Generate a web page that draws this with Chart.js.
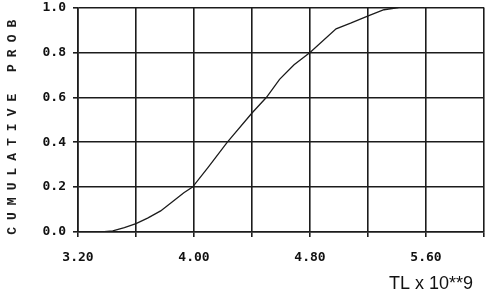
<!DOCTYPE html>
<html>
<head>
<meta charset="utf-8">
<script src="https://cdn.jsdelivr.net/npm/chart.js@4/dist/chart.umd.min.js"></script>
<style>
  html, body { margin: 0; padding: 0; background: #fff; }
  #wrap { width: 490px; height: 292px; }
</style>
</head>
<body>
<div id="wrap"><canvas id="cdf"></canvas></div>
<script>
// Valors llegits de la corba (TL x 10**9 -> probabilitat acumulada)
const tlValues = [3.36, 3.44, 3.52, 3.60, 3.68, 3.77, 3.86, 3.93, 3.99, 4.10, 4.23, 4.40, 4.50, 4.59, 4.69, 4.80, 4.98, 5.08, 5.21, 5.31, 5.41];
const cumProb  = [0.00, 0.005, 0.02, 0.037, 0.062, 0.094, 0.139, 0.175, 0.20, 0.29, 0.40, 0.53, 0.60, 0.68, 0.745, 0.80, 0.905, 0.93, 0.965, 0.99, 1.00];

const xTickLabels = ['3.20', '4.00', '4.80', '5.60'];
const yTitle = 'CUMULATIVE PROB';
const xTitle = 'TL x 10**9';

const ink = '#1c1c1c';
const monoFamily = '"DejaVu Sans Mono", monospace';

// Títols dels eixos dibuixats a mà (espaiat de lletres)
const axisTitles = {
    id: 'axisTitles',
    afterDraw(chart) {
        const { ctx, chartArea } = chart;
        ctx.save();
        ctx.fillStyle = ink;
        ctx.font = 'bold 13px "Liberation Mono", monospace';
        ctx.letterSpacing = '7px';
        ctx.translate(13, (chartArea.top + chartArea.bottom) / 2 + 4);
        ctx.rotate(-Math.PI / 2);
        ctx.textAlign = 'center';
        ctx.textBaseline = 'middle';
        ctx.fillText(yTitle, 0, 0);
        ctx.restore();

        ctx.save();
        ctx.fillStyle = '#111';
        ctx.font = '18px "Liberation Sans", Arial, sans-serif';
        ctx.textAlign = 'right';
        ctx.textBaseline = 'alphabetic';
        ctx.fillText(xTitle, 473, 289);
        ctx.restore();
    }
};

const points = tlValues.map((x, i) => ({ x, y: cumProb[i] }));

new Chart(document.getElementById('cdf').getContext('2d'), {
    type: 'scatter',
    data: {
        datasets: [{
            data: points,
            showLine: true,
            borderColor: ink,
            borderWidth: 1.3,
            pointRadius: 0,
            tension: 0
        }]
    },
    options: {
        responsive: true,
        maintainAspectRatio: false,
        animation: false,
        layout: { padding: { top: 0, right: 6, left: 0, bottom: 0 } },
        plugins: {
            legend: { display: false },
            tooltip: { enabled: false }
        },
        scales: {
            x: {
                type: 'linear',
                min: 3.2,
                max: 6.0,
                afterFit: (scale) => { scale.height = 60; },
                afterBuildTicks: (scale) => {
                    scale.ticks = [3.2, 3.6, 4.0, 4.4, 4.8, 5.2, 5.6, 6.0].map(v => ({ value: v }));
                },
                ticks: {
                    autoSkip: false,
                    maxRotation: 0,
                    padding: 0,
                    color: '#111',
                    // lineHeight gran per baixar les etiquetes sense afegir marge lateral
                    font: { family: monoFamily, size: 13, weight: 'bold', lineHeight: '41px' },
                    callback: (value, idx) => (idx % 2 === 0 ? xTickLabels[idx / 2] || '' : '')
                },
                grid: { color: ink, lineWidth: 1.6, tickLength: 5, tickColor: ink },
                border: { color: ink, width: 1.6 }
            },
            y: {
                min: 0,
                max: 1,
                afterFit: (scale) => { scale.width = 78; },
                ticks: {
                    stepSize: 0.2,
                    padding: 7,
                    color: '#111',
                    font: { family: monoFamily, size: 13, weight: 'bold', lineHeight: '1px' },
                    callback: (value) => value.toFixed(1)
                },
                grid: { color: ink, lineWidth: 1.6, tickLength: 5, tickColor: ink },
                border: { color: ink, width: 1.6 }
            }
        }
    },
    plugins: [axisTitles]
});
</script>
</body>
</html>
